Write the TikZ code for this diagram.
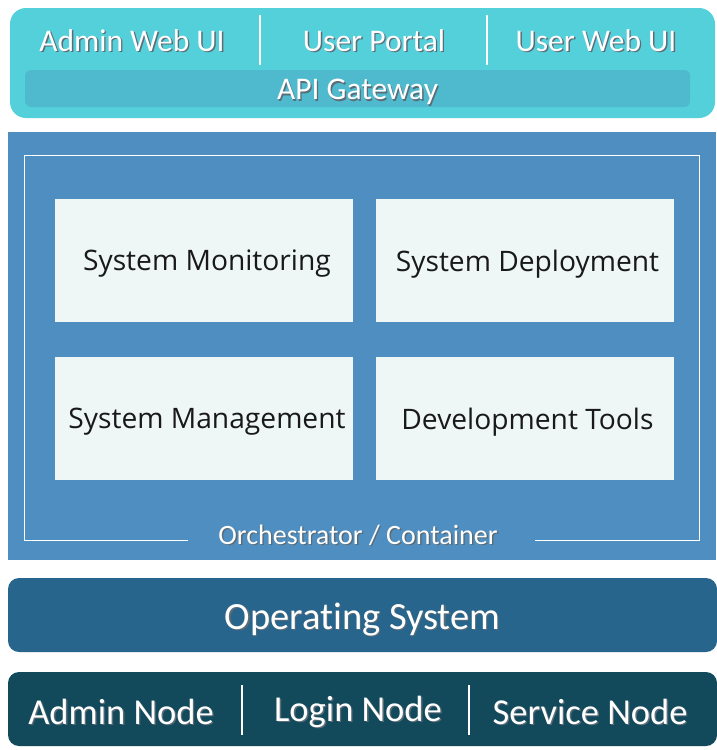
\documentclass[tikz,border=0pt]{standalone}
\usepackage{fontspec}
\setmainfont{Carlito}[Ligatures=NoCommon]
\newfontfamily\panelfont{Open Sans}
\definecolor{topc}{RGB}{84,208,218}
\definecolor{apic}{RGB}{79,185,206}
\definecolor{midc}{RGB}{79,142,192}
\definecolor{panelc}{RGB}{238,246,246}
\definecolor{osc}{RGB}{39,101,141}
\definecolor{botc}{RGB}{18,74,92}
\definecolor{shadc}{RGB}{20,45,60}
\definecolor{ptext}{RGB}{25,25,25}
\newcommand\shd[1]{\makebox[0pt][l]{\hspace{1.4pt}\raisebox{-1.4pt}{\textcolor{shadc!70}{#1}}}#1}
\begin{document}
\begin{tikzpicture}[x=1pt,y=-1pt,
  layer/.style={draw=none, inner sep=0pt, outer sep=0pt},
  wlabel/.style={text=white, inner sep=0pt, anchor=center},
  plabel/.style={text=ptext, inner sep=0pt, font=\panelfont\fontsize{28.2}{30}\selectfont},
  panel/.style={layer, fill=panelc, minimum width=298pt, minimum height=123pt},
  divider/.style={white, line width=1.6pt}
]
\useasboundingbox (0,0) rectangle (717,750);
\fill[white] (0,0) rectangle (717,750);

% top layer
\node[layer, fill=topc, rounded corners=16pt, minimum width=705pt, minimum height=110pt] (top) at (362.5,63) {};
\node[layer, fill=apic, rounded corners=6pt, minimum width=665pt, minimum height=37pt] (api) at (357.5,88.5) {};
\node[wlabel, font=\fontsize{31.5}{34}\selectfont] (admui) at (132,41) {\shd{Admin Web UI}};
\node[wlabel, font=\fontsize{31.5}{34}\selectfont] (uport) at (374,41) {\shd{User Portal}};
\node[wlabel, font=\fontsize{31.5}{34}\selectfont] (usrui) at (596,41) {\shd{User Web UI}};
\node[wlabel, font=\fontsize{31.5}{34}\selectfont] (apil) at (357.5,93) {\shd{API Gateway}};
\draw[divider] (260,15) -- (260,65);
\draw[divider] (487,15) -- (487,65);

% middle layer
\node[layer, fill=midc, minimum width=708pt, minimum height=428pt] (mid) at (362,346) {};
\draw[white, line width=0.9pt] (188,540) -- (24,540) -- (24,155) -- (699,155) -- (699,540) -- (535,540);
\node[panel] (p1) at (204,260.5) {};
\node[panel] (p2) at (524.5,260.5) {};
\node[panel] (p3) at (204,418.5) {};
\node[panel] (p4) at (524.5,418.5) {};
\node[plabel] (l1) at ([xshift=3pt,yshift=-3.5pt]p1.center) {System Monitoring};
\node[plabel] (l2) at ([xshift=3pt,yshift=-3.5pt]p2.center) {System Deployment};
\node[plabel] (l3) at ([xshift=3pt,yshift=-3.5pt]p3.center) {System Management};
\node[plabel] (l4) at ([xshift=3pt,yshift=-3.5pt]p4.center) {Development Tools};
\node[wlabel, font=\fontsize{28}{30}\selectfont] (orch) at (358,536) {\shd{Orchestrator / Container}};

% OS layer
\node[layer, fill=osc, rounded corners=11pt, minimum width=709pt, minimum height=74pt] (os) at (362.5,615) {};
\node[wlabel, font=\fontsize{38.5}{40}\selectfont] (osl) at (362.5,620) {\shd{Operating System}};

% bottom layer
\node[layer, fill=botc, rounded corners=11pt, minimum width=709pt, minimum height=74pt] (bot) at (362.5,709) {};
\node[wlabel, font=\fontsize{36.5}{38}\selectfont] (an) at (121,712.5) {\shd{Admin Node}};
\node[wlabel, font=\fontsize{36.5}{38}\selectfont] (ln) at (358,712.5) {\shd{Login Node}};
\node[wlabel, font=\fontsize{36.5}{38}\selectfont] (sn) at (590,712.5) {\shd{Service Node}};
\draw[divider] (242,685) -- (242,735);
\draw[divider] (469,685) -- (469,735);
\end{tikzpicture}
\end{document}
